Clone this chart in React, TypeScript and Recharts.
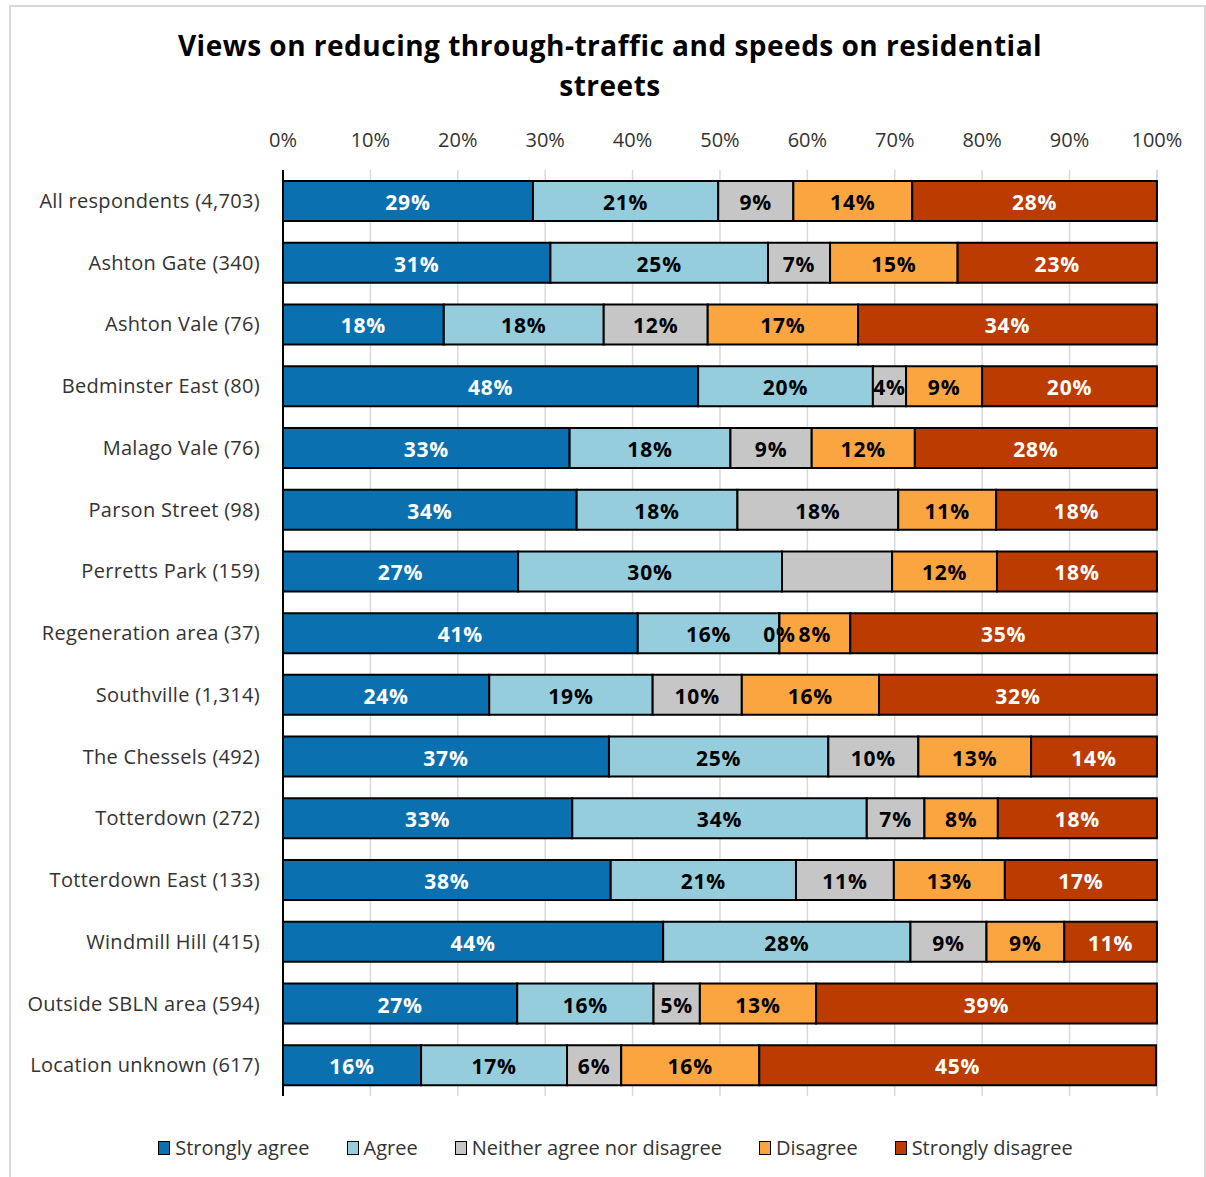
import React from "react";
import { BarChart, Bar, XAxis, YAxis, CartesianGrid, LabelList, Legend } from "recharts";

const categories = [
  "All respondents (4,703)",
  "Ashton Gate (340)",
  "Ashton Vale (76)",
  "Bedminster East (80)",
  "Malago Vale (76)",
  "Parson Street (98)",
  "Perretts Park (159)",
  "Regeneration area (37)",
  "Southville (1,314)",
  "The Chessels (492)",
  "Totterdown (272)",
  "Totterdown East (133)",
  "Windmill Hill (415)",
  "Outside SBLN area (594)",
  "Location unknown (617)",
];

const stronglyAgree = [28.6, 30.6, 18.4, 47.5, 32.8, 33.6, 26.9, 40.6, 23.6, 37.3, 33.1, 37.5, 43.5, 26.8, 15.8];
const agree = [21.2, 24.9, 18.3, 20.0, 18.4, 18.4, 30.2, 16.2, 18.7, 25.1, 33.7, 21.2, 28.3, 15.6, 16.7];
const neither = [8.6, 7.1, 11.9, 3.8, 9.3, 18.4, 12.6, 0.01, 10.2, 10.3, 6.6, 11.2, 8.7, 5.3, 6.2];
const disagree = [13.6, 14.6, 17.2, 8.7, 11.8, 11.2, 12.0, 8.1, 15.7, 12.9, 8.4, 12.7, 8.9, 13.3, 15.8];
const stronglyDisagree = [28.0, 22.8, 34.2, 20.0, 27.7, 18.4, 18.3, 35.1, 31.8, 14.4, 18.2, 17.4, 10.6, 39.0, 45.4];

// Data labels that are not shown in the original (category, series key)
const hiddenLabels = [["Perretts Park (159)", "neither"]];

const xTicks = [0, 10, 20, 30, 40, 50, 60, 70, 80, 90, 100];

const series = [
  { key: "sa", name: "Strongly agree", color: "#0b70b0", text: "#ffffff", values: stronglyAgree },
  { key: "ag", name: "Agree", color: "#95cddc", text: "#000000", values: agree },
  { key: "neither", name: "Neither agree nor disagree", color: "#c6c6c6", text: "#000000", values: neither },
  { key: "di", name: "Disagree", color: "#fba541", text: "#000000", values: disagree },
  { key: "sd", name: "Strongly disagree", color: "#bb3b00", text: "#ffffff", values: stronglyDisagree },
];

const data = categories.map((c, i) => {
  const row: any = { name: c };
  series.forEach((s) => (row[s.key] = s.values[i]));
  return row;
});

const FONT = "'Open Sans', Lato, sans-serif";

const makeLabel = (sKey: string, color: string) => (props: any) => {
  const { x, y, width, height, value, index } = props;
  const cat = categories[index];
  if (hiddenLabels.some(([c, k]) => c === cat && k === sKey)) return null;
  return (
    <text
      x={Number(x) + Number(width) / 2}
      y={Number(y) + Number(height) / 2 + 1}
      textAnchor="middle"
      dominantBaseline="central"
      fill={color}
      fontSize={21}
      fontWeight={700}
      fontFamily={FONT}
      letterSpacing={0.8}
    >
      {Math.round(Number(value))}%
    </text>
  );
};

const renderLegend = () => (
  <div style={{ display: "flex", justifyContent: "center", fontFamily: FONT, fontSize: 20, color: "#333", paddingLeft: 74 }}>
    {series.map((s, i) => (
      <div key={s.key} style={{ display: "flex", alignItems: "center", marginRight: i === series.length - 1 ? 0 : 37 }}>
        <span
          style={{
            display: "inline-block",
            width: 10,
            height: 12,
            background: s.color,
            border: "1.5px solid #000",
            marginRight: 5,
          }}
        />
        <span>{s.name}</span>
      </div>
    ))}
  </div>
);

export default function App() {
  return (
    <div
      style={{
        position: "absolute",
        left: 0,
        top: 0,
        width: 1206,
        height: 1177,
        background: "#fff",
        fontFamily: FONT,
      }}
    >
      <div
        style={{
          position: "absolute",
          left: 9,
          top: 5,
          width: 1197,
          height: 1180,
          border: "2px solid #d9d9d9",
          boxSizing: "border-box",
        }}
      />
      <div
        style={{
          position: "absolute",
          left: 0,
          top: 25,
          width: 1220,
          textAlign: "center",
          fontSize: 28,
          fontWeight: 700,
          lineHeight: "40px",
          color: "#000",
          letterSpacing: 0.5,
        }}
      >
        Views on reducing through-traffic and speeds on residential
        <br />
        streets
      </div>
      <div style={{ position: "absolute", left: 0, top: 0 }}>
        <BarChart
          width={1206}
          height={1177}
          data={data}
          layout="vertical"
          margin={{ top: 120, right: 49, bottom: 54, left: 0 }}
          barSize={40}
        >
          <CartesianGrid horizontal={false} stroke="#d9d9d9" strokeWidth={1.5} />
          <XAxis
            type="number"
            orientation="top"
            domain={[0, 100]}
            ticks={xTicks}
            tickFormatter={(v) => `${v}%`}
            axisLine={false}
            tickLine={false}
            tickMargin={17}
            height={50}
            tick={{ fontSize: 20, fill: "#333", fontFamily: FONT }}
            interval={0}
          />
          <YAxis
            type="category"
            dataKey="name"
            width={283}
            axisLine={{ stroke: "#000", strokeWidth: 2 }}
            tickLine={false}
            tickMargin={17}
            tick={{ fontSize: 20, fill: "#333", fontFamily: FONT, letterSpacing: 0.3 }}
            interval={0}
          />
          {series.map((s) => (
            <Bar
              key={s.key}
              dataKey={s.key}
              name={s.name}
              stackId="a"
              fill={s.color}
              stroke="#000"
              strokeWidth={2}
              isAnimationActive={false}
            >
              <LabelList dataKey={s.key} content={makeLabel(s.key, s.text)} />
            </Bar>
          ))}
          <Legend
            content={renderLegend}
            verticalAlign="bottom"
            wrapperStyle={{ bottom: 16 }}
          />
        </BarChart>
      </div>
    </div>
  );
}
